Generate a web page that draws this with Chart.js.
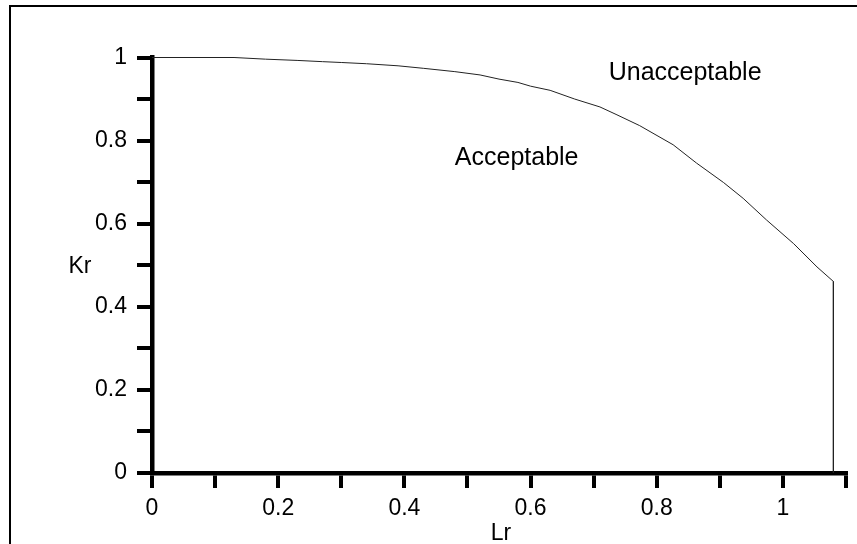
<!DOCTYPE html>
<html><head><meta charset="utf-8">
<script src="https://cdn.jsdelivr.net/npm/chart.js@4"></script>
<style>
html,body{margin:0;padding:0;background:#fff;overflow:hidden;}
#wrap{position:relative;width:857px;height:544px;overflow:hidden;}
#frame{position:absolute;left:9px;top:5px;width:900px;height:600px;border-left:2px solid #000;border-top:2px solid #000;pointer-events:none;}
canvas{position:absolute;left:0;top:0;}
</style></head><body>
<div id="wrap"><canvas id="c" width="857" height="544"></canvas><div id="frame"></div></div>
<script>
// Failure assessment curve
const lrValues = [0, 0.13, 0.18, 0.23, 0.27, 0.30, 0.34, 0.39, 0.43, 0.48, 0.52, 0.55, 0.58, 0.60, 0.631, 0.67, 0.71, 0.737, 0.773, 0.826, 0.863, 0.906, 0.937, 0.974, 1.017, 1.054, 1.08, 1.08];
const krValues = [1, 1, 0.996, 0.993, 0.99, 0.988, 0.985, 0.980, 0.974, 0.966, 0.958, 0.948, 0.940, 0.931, 0.921, 0.900, 0.881, 0.862, 0.836, 0.790, 0.746, 0.699, 0.661, 0.609, 0.552, 0.496, 0.461, 0];

const xTickValues = [0, 0.1, 0.2, 0.3, 0.4, 0.5, 0.6, 0.7, 0.8, 0.9, 1.0, 1.1];
const xTickLabels = ['0', '', '0.2', '', '0.4', '', '0.6', '', '0.8', '', '1', ''];
const yTickValues = [0, 0.1, 0.2, 0.3, 0.4, 0.5, 0.6, 0.7, 0.8, 0.9, 1.0];
const yTickLabels = ['0', '', '0.2', '', '0.4', '', '0.6', '', '0.8', '', '1'];

const xTitle = 'Lr';
const yTitle = 'Kr';
const regionNames = ['Acceptable', 'Unacceptable'];
const regionLr = [0.578, 0.845];
const regionKr = [0.741, 0.946];

const FONT = "'Liberation Sans', Arial, sans-serif";

const textPlugin = {
  id: 'texts',
  afterDraw(chart) {
    const ctx = chart.ctx;
    const xs = chart.scales.x, ys = chart.scales.y;
    ctx.save();
    ctx.fillStyle = '#000';
    ctx.textAlign = 'center';
    ctx.textBaseline = 'alphabetic';
    ctx.font = '25px ' + FONT;
    regionNames.forEach((t, i) => {
      ctx.fillText(t, xs.getPixelForValue(regionLr[i]), ys.getPixelForValue(regionKr[i]));
    });
    ctx.font = '23px ' + FONT;
    ctx.fillText(xTitle, (chart.chartArea.left + chart.chartArea.right) / 2 + 2, 540);
    ctx.fillText(yTitle, 80, ys.getPixelForValue(0.5) + 8);
    ctx.restore();
  }
};

new Chart(document.getElementById('c'), {
  type: 'scatter',
  data: {
    datasets: [{
      data: lrValues.map((v, i) => ({x: v, y: krValues[i]})),
      showLine: true,
      borderColor: '#222',
      borderWidth: 1,
      pointRadius: 0,
      tension: 0,
      clip: false
    }]
  },
  options: {
    responsive: false,
    devicePixelRatio: 1,
    animation: false,
    events: [],
    layout: {padding: {left: 0, right: 11, top: 57.5, bottom: 0}},
    plugins: {legend: {display: false}, tooltip: {enabled: false}},
    scales: {
      x: {
        type: 'linear', min: 0, max: 1.1,
        afterBuildTicks: s => { s.ticks = xTickValues.map(v => ({value: v})); },
        afterFit: s => { s.height = 71; },
        ticks: {
          autoSkip: false, maxRotation: 0, padding: 7,
          color: '#000', font: {family: FONT, size: 23},
          callback: (v, i) => xTickLabels[i]
        },
        grid: {drawOnChartArea: false, drawTicks: true, tickLength: 15, tickWidth: 4, tickColor: '#000', color: '#000', lineWidth: 4},
        border: {display: true, color: '#000', width: 4.5}
      },
      y: {
        type: 'linear', min: 0, max: 1,
        afterBuildTicks: s => { s.ticks = yTickValues.map(v => ({value: v})); },
        afterFit: s => { s.width = 152; },
        ticks: {
          autoSkip: false, padding: 10,
          color: '#000', font: {family: FONT, size: 23},
          callback: (v, i) => yTickLabels[i]
        },
        grid: {drawOnChartArea: false, drawTicks: true, tickLength: 15, tickWidth: 4, tickColor: '#000', color: '#000', lineWidth: 4},
        border: {display: true, color: '#000', width: 4.5}
      }
    }
  },
  plugins: [textPlugin]
});
</script>
</body></html>
